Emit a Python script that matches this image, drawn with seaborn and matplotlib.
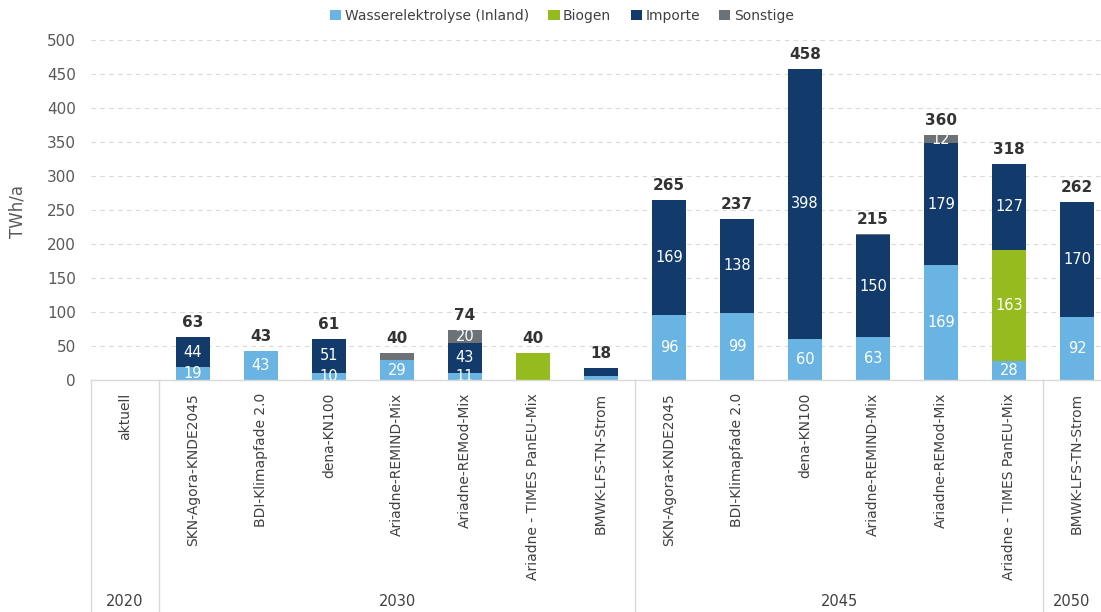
import matplotlib
matplotlib.use("Agg")
import matplotlib.pyplot as plt
import matplotlib.transforms as mtransforms
from matplotlib.patches import Patch
import pandas as pd
import seaborn as sns

# Daten (TWh/a)
szenarien = ["aktuell", "SKN-Agora-KNDE2045", "BDI-Klimapfade 2.0", "dena-KN100",
             "Ariadne-REMIND-Mix", "Ariadne-REMod-Mix", "Ariadne - TIMES PanEU-Mix",
             "BMWK-LFS-TN-Strom", "SKN-Agora-KNDE2045", "BDI-Klimapfade 2.0", "dena-KN100",
             "Ariadne-REMIND-Mix", "Ariadne-REMod-Mix", "Ariadne - TIMES PanEU-Mix",
             "BMWK-LFS-TN-Strom"]
jahre = ["2020", "2030", "2045", "2050"]
jahr_von_bis = [(0, 0), (1, 7), (8, 13), (14, 14)]

wasser = [0, 19, 43, 10, 29, 11, 0, 6, 96, 99, 60, 63, 169, 28, 92]
biogen = [0, 0, 0, 0, 0, 0, 40, 0, 0, 0, 0, 0, 0, 163, 0]
importe = [0, 44, 0, 51, 0, 43, 0, 12, 169, 138, 398, 150, 179, 127, 170]
sonstige = [0, 0, 0, 0, 11, 20, 0, 0, 0, 0, 0, 2, 12, 0, 0]
summe = [None, 63, 43, 61, 40, 74, 40, 18, 265, 237, 458, 215, 360, 318, 262]

# Segmente ohne Beschriftung in der Vorlage
ohne_label = {(4, "Sonstige"), (6, "Biogen"), (7, "Wasserelektrolyse (Inland)"),
              (7, "Importe"), (11, "Sonstige")}

reihen = ["Wasserelektrolyse (Inland)", "Biogen", "Importe", "Sonstige"]
werte = [wasser, biogen, importe, sonstige]
farben = ["#69B4E2", "#95BB1F", "#123B6B", "#6D7277"]

pos = list(range(len(szenarien)))
df = pd.DataFrame({"pos": pos})
kum = [0] * len(pos)
for name, w in zip(reihen, werte):
    kum = [a + b for a, b in zip(kum, w)]
    df[name] = kum

fig = plt.figure(figsize=(11.01, 6.12), dpi=100)
ax = fig.add_axes([91 / 1101, 1 - 380 / 612, 1 - 91 / 1101, 340 / 612])

# gestapelte Balken: kumulierte Summen von oben nach unten ueberzeichnen
for name, farbe in reversed(list(zip(reihen, farben))):
    sns.barplot(data=df, x="pos", y=name, order=pos, color=farbe, saturation=1,
                width=0.5, ax=ax, zorder=2)

# Beschriftung der Segmente
for i in pos:
    unten = 0
    for name, w in zip(reihen, werte):
        v = w[i]
        if v > 0 and (i, name) not in ohne_label:
            ax.text(i, unten + v / 2, str(v), ha="center", va="center", color="white",
                    fontsize=10.5, zorder=3, clip_on=True)
        unten += v
    if summe[i] is not None:
        ax.annotate(str(summe[i]), (i, summe[i]), xytext=(0, 5), textcoords="offset points",
                    ha="center", va="bottom", fontsize=11, fontweight="bold", color="#333333")

ax.set_xlim(-0.5, -0.5 + 1010 / 68)
ax.set_ylim(0, 500)
ax.set_yticks(range(0, 501, 50))
ax.tick_params(axis="y", length=0, pad=11, labelsize=11, labelcolor="#595959")
ax.set_xticks([])
ax.set_xlabel("")
ax.set_ylabel("")
ax.yaxis.grid(True, linestyle=(0, (4, 4)), color="#D9D9D9", linewidth=0.8, zorder=0)
ax.set_axisbelow(True)
for s in ax.spines.values():
    s.set_visible(False)

fig.text(18 / 1101, 1 - 212 / 612, "TWh/a", rotation=90, ha="center", va="center",
         fontsize=12, color="#595959")

# Kategorietabelle unter der Achse
trans = mtransforms.blended_transform_factory(ax.transData, fig.transFigure)
linie = "#D9D9D9"
ax.plot([-0.5, 15], [1 - 380 / 612] * 2, color=linie, lw=1, transform=trans, clip_on=False)
for xs in [-0.5, 0.5, 7.5, 13.5]:
    ax.plot([xs, xs], [1 - 380 / 612, 0], color=linie, lw=1, transform=trans, clip_on=False)

for i in pos:
    ax.text(i, 1 - 393 / 612, szenarien[i], rotation=90, ha="center", va="top",
            fontsize=10, color="#404040", transform=trans)

xmax = ax.get_xlim()[1]
for jahr, (a, b) in zip(jahre, jahr_von_bis):
    lo, hi = a - 0.5, min(b + 0.5, xmax)
    ax.text((lo + hi) / 2, 1 - 602 / 612, jahr, ha="center", va="center",
            fontsize=10.5, color="#404040", transform=trans)

handles = [Patch(facecolor=f, edgecolor="none") for f in farben]
fig.legend(handles, reihen, loc="center", bbox_to_anchor=(562 / 1101, 1 - 16 / 612),
           ncol=4, frameon=False, fontsize=10, handlelength=0.8, handleheight=0.8,
           handletextpad=0.25, columnspacing=1.4, labelcolor="#404040")

fig.savefig("out.png", dpi=100)
